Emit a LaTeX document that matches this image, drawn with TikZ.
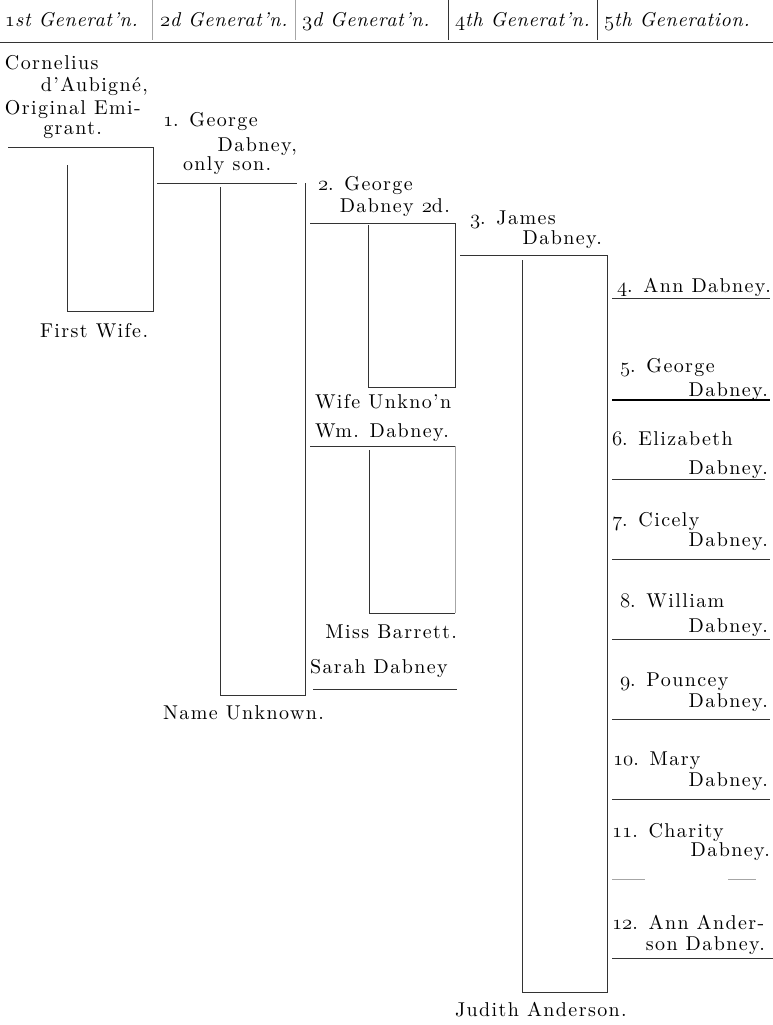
\documentclass[tikz,border=0pt]{standalone}
\usepackage{fontspec}
\setmainfont{lmroman10-regular.otf}[ItalicFont=lmroman10-italic.otf, LetterSpace=7]
\newcommand{\osd}[1]{{\fontencoding{OML}\fontfamily{cmm}\fontseries{m}\fontshape{it}\selectfont #1}}
\tikzset{
  txt/.style={font=\fontsize{20}{22}\selectfont, anchor=base west, inner sep=0pt, outer sep=0pt},
  txtr/.style={txt, anchor=base east},
  hdr/.style={font=\fontsize{20}{22}\selectfont\itshape\addfontfeature{LetterSpace=3.5}, anchor=base west, inner sep=0pt, outer sep=0pt},
  rule/.style={line width=0.8pt, draw=black!80},
  faint/.style={line width=0.6pt, draw=black!35},
}
\begin{document}
\begin{tikzpicture}[x=1pt,y=-1pt]
\useasboundingbox (0,0) rectangle (773,1025);
% header
\node[hdr] (h1) at (5,27) {\osd{1}st Generat'n.};
\node[hdr] (h2) at (160,27) {\osd{2}d Generat'n.};
\node[hdr] (h3) at (302,27) {\osd{3}d Generat'n.};
\node[hdr] (h4) at (455,27) {\osd{4}th Generat'n.};
\node[hdr] (h5) at (604,27) {\osd{5}th Generation.};
\draw[faint] (152,0) -- (152,40);
\draw[faint] (295,0) -- (295,40);
\draw[rule] (448,0) -- (448,40);
\draw[rule] (597,0) -- (597,40);
\draw[rule] (0,42) -- (773,42);

% generation 1
\node[txt] (c1) at (5,70) {Cornelius};
\node[txtr] (c2) at (148,92) {d'Aubigné,};
\node[txt] (c3) at (5,114) {Original Emi-};
\node[txtr] (c4) at (102,134) {grant.};
\draw[rule] (8,147) -- (153,147) -- (153,311) -- (67,311) -- (67,165);
\node[txt] (fw) at (40,337) {First Wife.};

% generation 2
\node[txt] (g1a) at (163,126) {\osd{1}. George};
\node[txtr] (g1b) at (297,151) {Dabney,};
\node[txt] (g1c) at (183,170) {only son.};
\draw[rule] (157,183) -- (297,183);
\draw[rule] (305,183) -- (305,695) -- (220,695) -- (220,187);
\node[txt] (nu) at (163,719) {Name Unknown.};

% generation 3
\node[txt] (g2a) at (318,190) {\osd{2}. George};
\node[txtr] (g2b) at (450,212) {Dabney \osd{2}d.};
\draw[rule] (310,223) -- (455,223) -- (455,387) -- (368,387) -- (368,225);
\node[txt] (wu) at (315,408) {Wife Unkno'n};
\node[txt] (wm) at (315,437) {Wm. Dabney.};
\draw[rule] (310,446) -- (455,446);
\draw[faint] (455,446) -- (455,613);
\draw[rule] (455,613) -- (369,613) -- (369,450);
\node[txtr] (mb) at (457,638) {Miss Barrett.};
\node[txt] (sd) at (310,673) {Sarah Dabney};
\draw[rule] (313,689) -- (457,689);

% generation 4
\node[txt] (g3a) at (470,224) {\osd{3}. James};
\node[txtr] (g3b) at (602,244) {Dabney.};
\draw[rule] (460,255) -- (607,255) -- (607,992) -- (522,992) -- (522,260);
\node[txt] (ja) at (455,1016) {Judith Anderson.};

% generation 5
\node[txt] (k4) at (617,292) {\osd{4}. Ann Dabney.};
\draw[rule] (612,298) -- (770,298);
\node[txt] (k5a) at (620,372) {\osd{5}. George};
\node[txtr] (k5b) at (768,396) {Dabney.};
\draw[line width=1.2pt] (612,400) -- (770,400);
\node[txt] (k6a) at (612,445) {\osd{6}. Elizabeth};
\node[txtr] (k6b) at (768,474) {Dabney.};
\draw[rule] (612,479) -- (765,479);
\node[txt] (k7a) at (612,526) {\osd{7}. Cicely};
\node[txtr] (k7b) at (768,546) {Dabney.};
\draw[rule] (612,559) -- (770,559);
\node[txt] (k8a) at (620,607) {\osd{8}. William};
\node[txtr] (k8b) at (768,632) {Dabney.};
\draw[rule] (612,639) -- (770,639);
\node[txt] (k9a) at (620,686) {\osd{9}. Pouncey};
\node[txtr] (k9b) at (768,707) {Dabney.};
\draw[rule] (612,719) -- (770,719);
\node[txt] (k10a) at (613,765) {\osd{10}. Mary};
\node[txtr] (k10b) at (768,786) {Dabney.};
\draw[rule] (612,799) -- (770,799);
\node[txt] (k11a) at (612,837) {\osd{11}. Charity};
\node[txtr] (k11b) at (770,856) {Dabney.};
\draw[faint] (612,879) -- (645,879);
\draw[faint] (728,879) -- (756,879);
\node[txt] (k12a) at (612,929) {\osd{12}. Ann Ander-};
\node[txtr] (k12b) at (765,950) {son Dabney.};
\draw[rule] (612,958) -- (773,958);
\end{tikzpicture}
\end{document}
